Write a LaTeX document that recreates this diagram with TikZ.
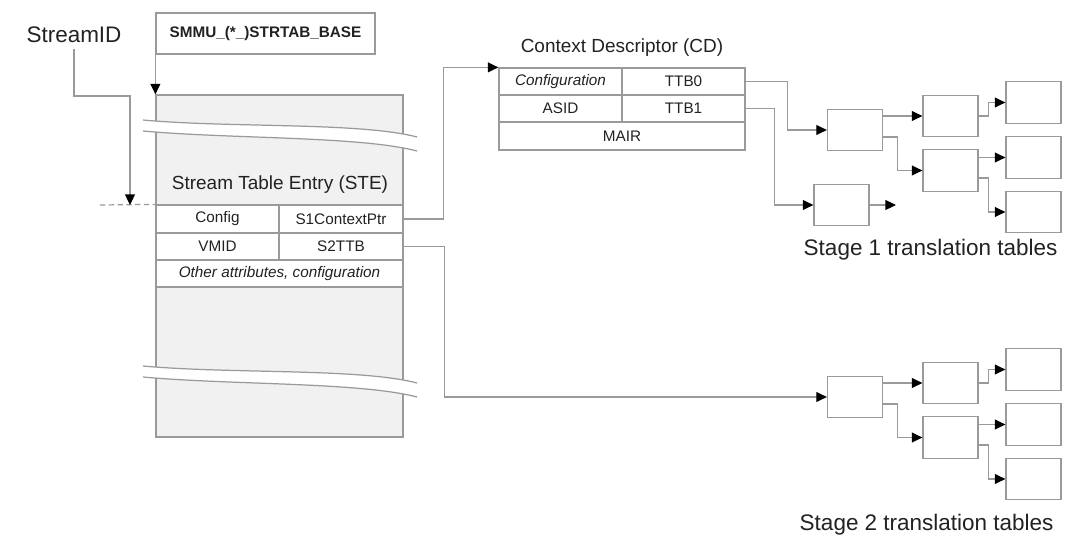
\documentclass[tikz,border=0pt]{standalone}
\usepackage{fontspec}
\setmainfont{Liberation Sans}
\usetikzlibrary{arrows.meta, calc}
\definecolor{cline}{HTML}{9A9A9A}
\definecolor{cfill}{HTML}{F1F1F1}
\definecolor{ctext}{HTML}{222222}
\tikzset{
  every picture/.style={font=\fontsize{8.7}{10}\selectfont, line width=0.7pt},
  cell/.style 2 args={draw=cline, fill=white, text=ctext, minimum width=#1*0.02cm, minimum height=#2*0.02cm, inner sep=0pt},
  tbl/.style={draw=cline, fill=white, minimum width=1.1cm, minimum height=0.83cm, inner sep=0pt},
  link/.style={-{Triangle[length=6pt, width=5.6pt, color=black]}, draw=cline, line width=0.7pt},
  big/.style={font=\fontsize{12.8}{15}\selectfont, text=ctext},
  title/.style={font=\fontsize{10.8}{13}\selectfont, text=ctext},
}
\begin{document}
\begin{tikzpicture}[x=0.02cm, y=-0.02cm]
  \useasboundingbox (0,0) rectangle (1082,554);
  % a level of tables: root, two middle tables, three leaves
  \newcommand{\tabletree}[2]{% #1 y shift, #2 name prefix
    \node[tbl] (#2a) at (855,130+#1) {};
    \node[tbl] (#2b) at (950.5,116+#1) {};
    \node[tbl] (#2c) at (950.5,170.5+#1) {};
    \node[tbl] (#2r1) at (1033.5,102.5+#1) {};
    \node[tbl] (#2r2) at (1033.5,157.5+#1) {};
    \node[tbl] (#2r3) at (1033.5,212+#1) {};
    \draw[link] (#2a.east |- #2b.west) -- (#2b.west);
    \draw[link] ($(#2a.east)+(0,7)$) -- ++(14,0) |- (#2c.west);
    \draw[link] (#2b.east) -- ++(10,0) |- (#2r1.west);
    \draw[link] (#2c.east |- #2r2.west) -- (#2r2.west);
    \draw[link] ($(#2c.east)+(0,7.5)$) -- ++(10,0) |- (#2r3.west);
  }
  % torn band across the stream table
  \newcommand{\breakband}[1]{% #1 y of the left end
    \fill[white] (143,#1) .. controls (230,#1+8) and (360,#1+2) .. (417,#1+17)
      -- (417,#1+31) .. controls (360,#1+16) and (230,#1+19) .. (143,#1+11) -- cycle;
    \draw[cline] (143,#1) .. controls (230,#1+8) and (360,#1+2) .. (417,#1+17);
    \draw[cline] (143,#1+11) .. controls (230,#1+19) and (360,#1+16) .. (417,#1+31);
  }
  % stream table
  \node[big] (sid) at (74,35) {StreamID};
  \node[cell={219}{41}, font=\fontsize{8.7}{10}\selectfont\bfseries] (base) at (265.5,33.5) {SMMU\_(*\_)STRTAB\_BASE};
  \node[cell={247}{342}, fill=cfill] (ste) at (279.5,266) {};
  \breakband{120}
  \breakband{366}
  \node[title] (stetitle) at (280,185) {Stream Table Entry (STE)};
  \node[cell={123}{28}] (cfg) at (217.5,219) {Config};
  \node[cell={124}{28}] (s1ptr) at (341,219) {S1ContextPtr};
  \node[cell={123}{27}] (vmid) at (217.5,246.5) {VMID};
  \node[cell={124}{27}] (s2ttb) at (341,246.5) {S2TTB};
  \node[cell={247}{27}] (other) at (279.5,273.5) {\itshape Other attributes, configuration};
  \coordinate (sidbend) at (130,96);
  \coordinate (slot) at (130,205);
  \coordinate (dash0) at (100,205);
  \draw[cline, dash pattern=on 3pt off 2pt] (dash0) -- (cfg.north west);
  \draw[link] (sid.south) |- (sidbend) -- (slot);
  \draw[link] (base.south west) -- (ste.north west);
  % context descriptor
  \node[title] (cdtitle) at (622,48) {Context Descriptor (CD)};
  \node[cell={123}{27}] (cdcfg) at (560.5,81.5) {\itshape Configuration};
  \node[cell={123}{27}] (ttb0) at (683.5,81.5) {TTB0};
  \node[cell={123}{27}] (asid) at (560.5,108.5) {ASID};
  \node[cell={123}{27}] (ttb1) at (683.5,108.5) {TTB1};
  \node[cell={246}{28}] (mair) at (622,136) {MAIR};
  \draw[link] (s1ptr.east) -- ++(40,0) |- (cdcfg.north west);
  % translation tables
  \tabletree{0}{s1}
  \tabletree{267}{s2}
  \node[tbl] (s1d) at (841.5,205) {};
  \coordinate (s1dout) at (896,205);
  \draw[link] (s1d.east) -- (s1dout);
  \draw[link] (ttb0.east) -- ++(42,0) |- (s1a.west);
  \draw[link] (ttb1.east) -- ++(29,0) |- (s1d.west);
  \draw[link] (s2ttb.east) -- ++(41,0) |- (s2a.west);
  \node[big, anchor=east] (s1label) at (1064,250) {Stage 1 translation tables};
  \node[big, anchor=east] (s2label) at (1060,525) {Stage 2 translation tables};
\end{tikzpicture}
\end{document}
